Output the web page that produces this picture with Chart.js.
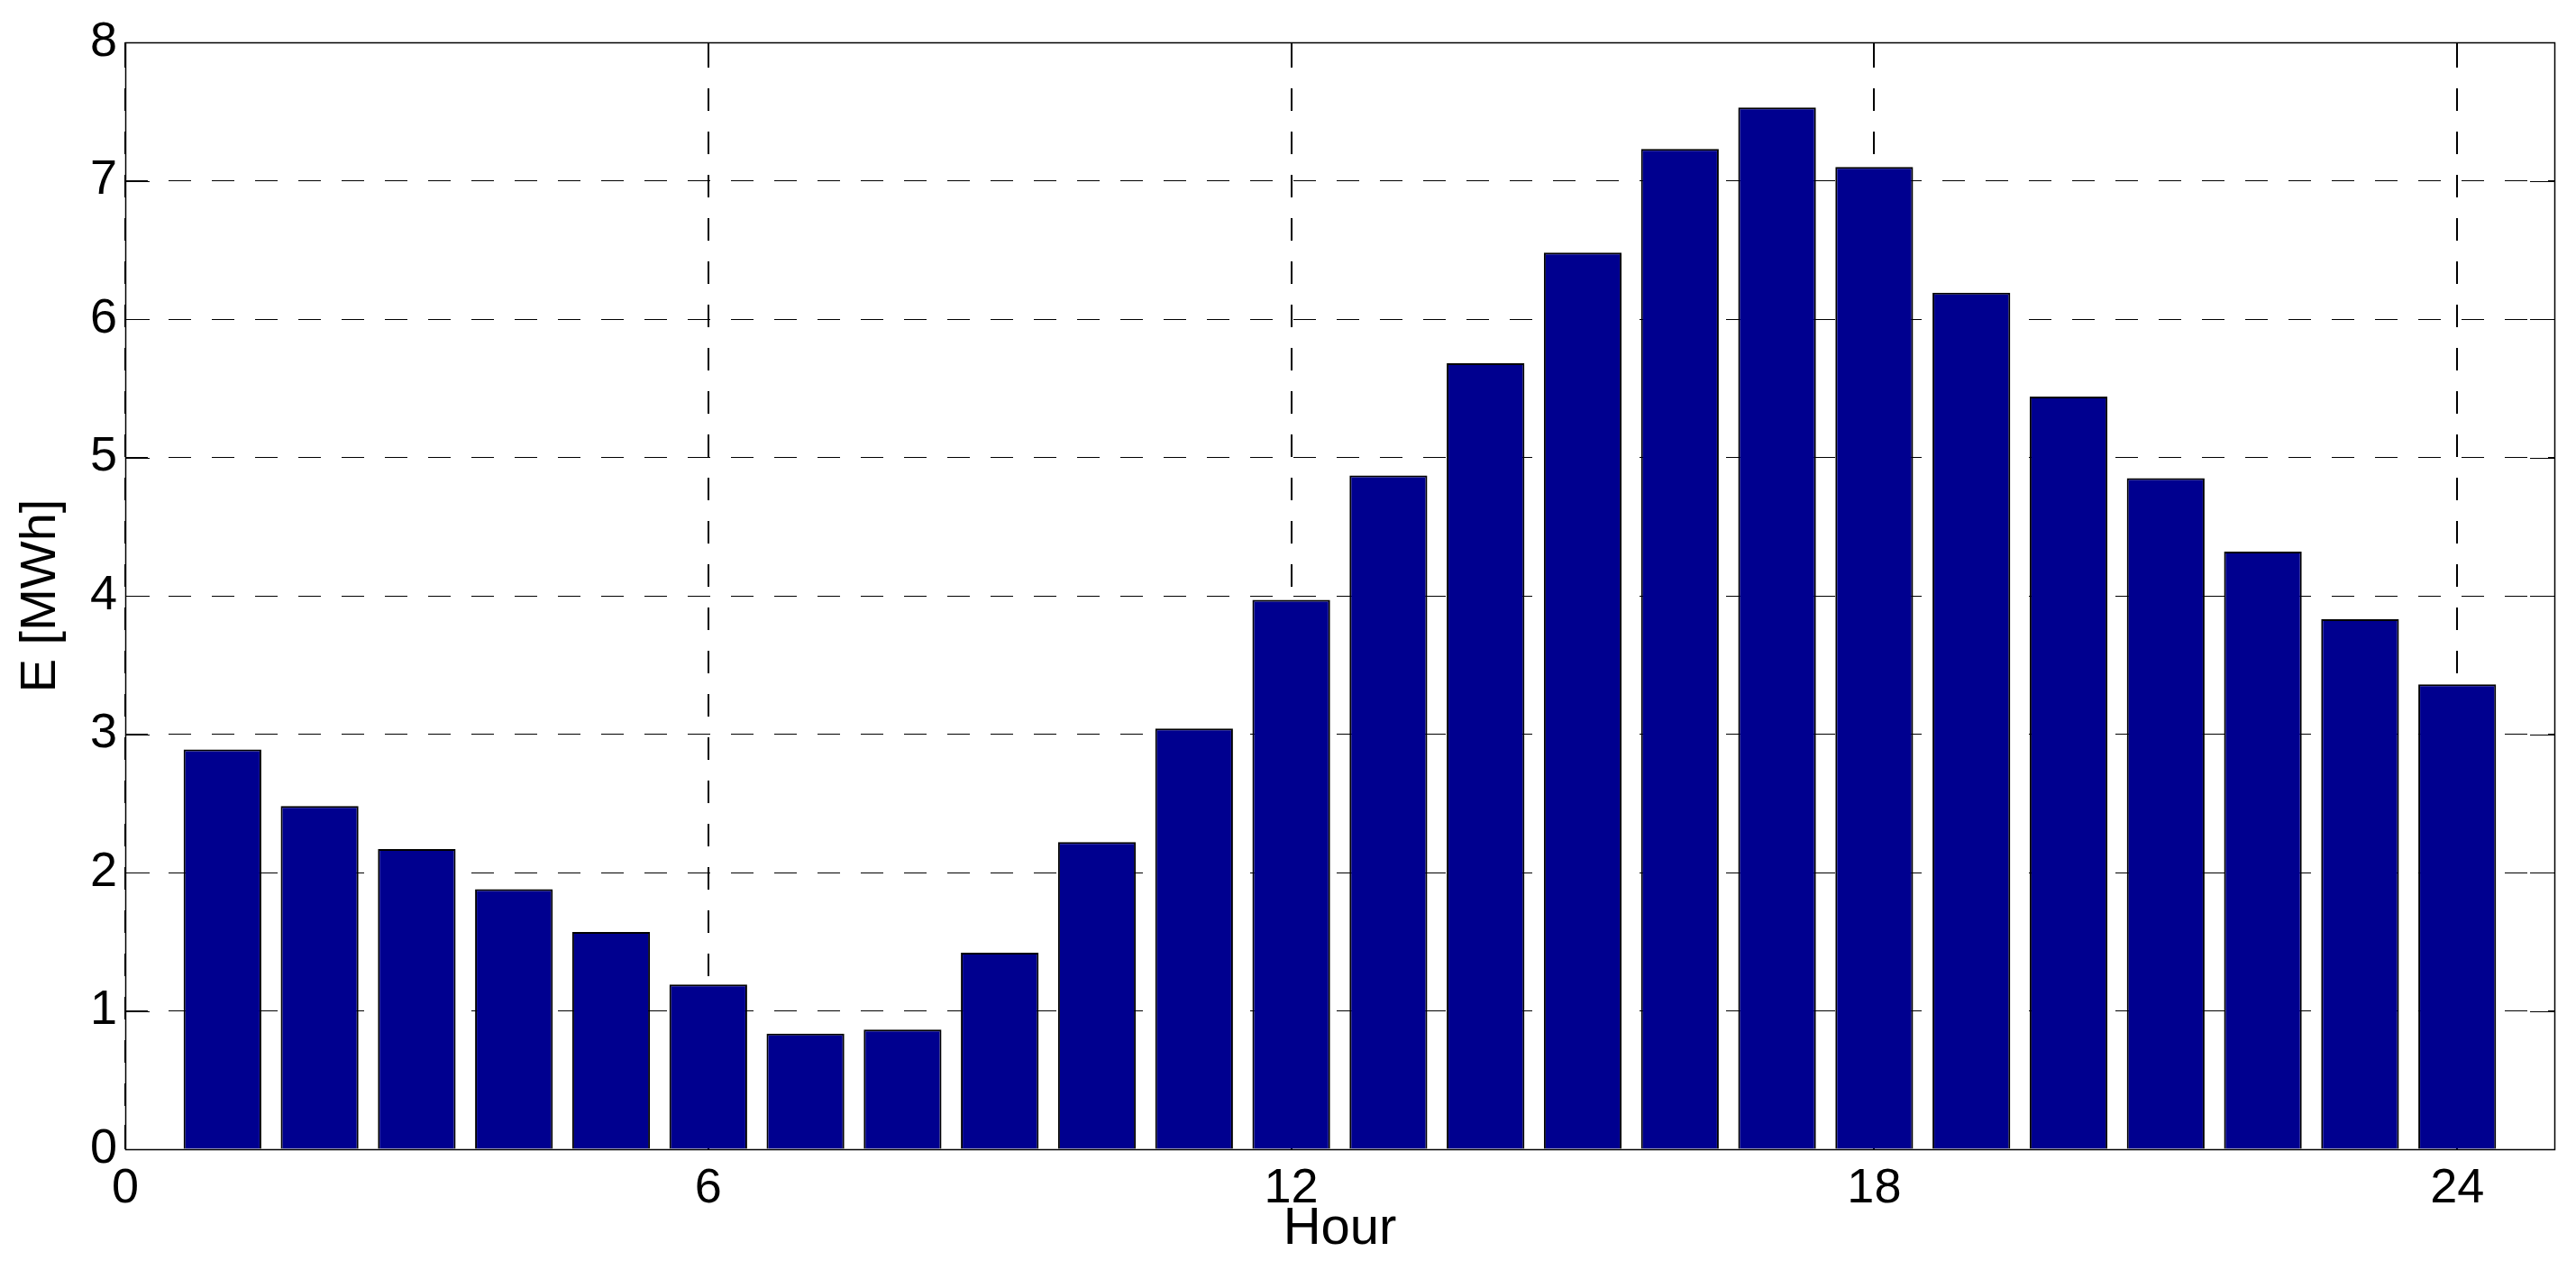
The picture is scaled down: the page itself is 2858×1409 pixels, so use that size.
<!DOCTYPE html>
<html>
<head>
<meta charset="utf-8">
<script src="https://cdn.jsdelivr.net/npm/chart.js@4"></script>
<style>
  html, body { margin: 0; padding: 0; background: #ffffff; }
  #wrap { width: 2858px; height: 1409px; position: relative; }
  canvas { display: block; }
</style>
</head>
<body>
<div id="wrap"><canvas id="c" width="2858" height="1409"></canvas></div>
<script>
// ---- data ----
const hours = [1, 2, 3, 4, 5, 6, 7, 8, 9, 10, 11, 12, 13, 14, 15, 16, 17, 18, 19, 20, 21, 22, 23, 24];
const energy = [2.89, 2.48, 2.17, 1.88, 1.57, 1.19, 0.835, 0.865, 1.42, 2.22, 3.04, 3.97,
                4.87, 5.68, 6.48, 7.23, 7.53, 7.10, 6.19, 5.44, 4.85, 4.32, 3.83, 3.36];
const xTickValues = [0, 6, 12, 18, 24];
const yTickValues = [0, 1, 2, 3, 4, 5, 6, 7, 8];
const xTitle = 'Hour';
const yTitle = 'E [MWh]';

const FONT = '"Liberation Sans", Arial, Helvetica, sans-serif';
const TICK_LEN = 27;

const framePlugin = {
  id: 'frame',
  beforeDatasetsDraw(chart) {
    const { ctx, chartArea: a, scales: { x, y } } = chart;
    ctx.save();
    ctx.strokeStyle = '#000';
    ctx.lineWidth = 2;
    ctx.beginPath();
    xTickValues.forEach(v => {
      const px = Math.round(x.getPixelForValue(v));
      ctx.moveTo(px, a.bottom); ctx.lineTo(px, a.bottom - TICK_LEN);
      ctx.moveTo(px, a.top); ctx.lineTo(px, a.top + TICK_LEN);
    });
    ctx.stroke();
    ctx.lineWidth = 1;
    ctx.beginPath();
    yTickValues.forEach(v => {
      const py = Math.round(y.getPixelForValue(v)) + 0.5;
      ctx.moveTo(a.left, py); ctx.lineTo(a.left + TICK_LEN, py);
      ctx.moveTo(a.right, py); ctx.lineTo(a.right - TICK_LEN, py);
    });
    ctx.stroke();
    ctx.restore();
  },
  afterDraw(chart) {
    const { ctx, chartArea: a } = chart;
    ctx.save();
    ctx.strokeStyle = '#000';
    ctx.lineWidth = 1.5;
    ctx.strokeRect(Math.round(a.left) + 0.5, Math.round(a.top) + 0.5,
                   Math.round(a.right - a.left), Math.round(a.bottom - a.top));
    ctx.restore();
  }
};

new Chart(document.getElementById('c'), {
  type: 'bar',
  data: {
    datasets: [{
      data: hours.map((h, i) => ({ x: h, y: energy[i] })),
      backgroundColor: '#00008F',
      borderColor: '#000000',
      borderWidth: 2,
      borderSkipped: 'start',
      categoryPercentage: 1.0,
      barPercentage: 0.8
    }]
  },
  options: {
    responsive: false,
    animation: false,
    devicePixelRatio: 1,
    layout: { padding: { top: 47, right: 24, left: 0, bottom: 0 } },
    plugins: { legend: { display: false }, tooltip: { enabled: false } },
    scales: {
      x: {
        type: 'linear',
        min: 0,
        max: 25,
        offset: false,
        afterBuildTicks: s => { s.ticks = xTickValues.map(v => ({ value: v })); },
        afterFit: s => { s.height = 134; },
        grid: {
          offset: false,
          drawTicks: false,
          color: '#000',
          lineWidth: 2
        },
        border: { display: false, dash: [25, 23], dashOffset: 45 },
        ticks: {
          color: '#000',
          font: { family: FONT, size: 54 },
          padding: 12,
          maxRotation: 0,
          autoSkip: false
        },
        title: {
          display: true,
          text: xTitle,
          color: '#000',
          font: { family: FONT, size: 58 },
          padding: { top: 0, bottom: 10 }
        }
      },
      y: {
        type: 'linear',
        min: 0,
        max: 8,
        afterBuildTicks: s => { s.ticks = yTickValues.map(v => ({ value: v })); },
        afterFit: s => { s.width = 139; },
        grid: {
          drawTicks: false,
          color: '#000',
          lineWidth: 1
        },
        border: { display: false, dash: [25, 23], dashOffset: 0 },
        ticks: {
          color: '#000',
          font: { family: FONT, size: 54 },
          padding: 9
        },
        title: {
          display: true,
          text: yTitle,
          color: '#000',
          font: { family: FONT, size: 56 },
          padding: { top: 12, bottom: 0 }
        }
      }
    }
  },
  plugins: [framePlugin]
});
</script>
</body>
</html>
